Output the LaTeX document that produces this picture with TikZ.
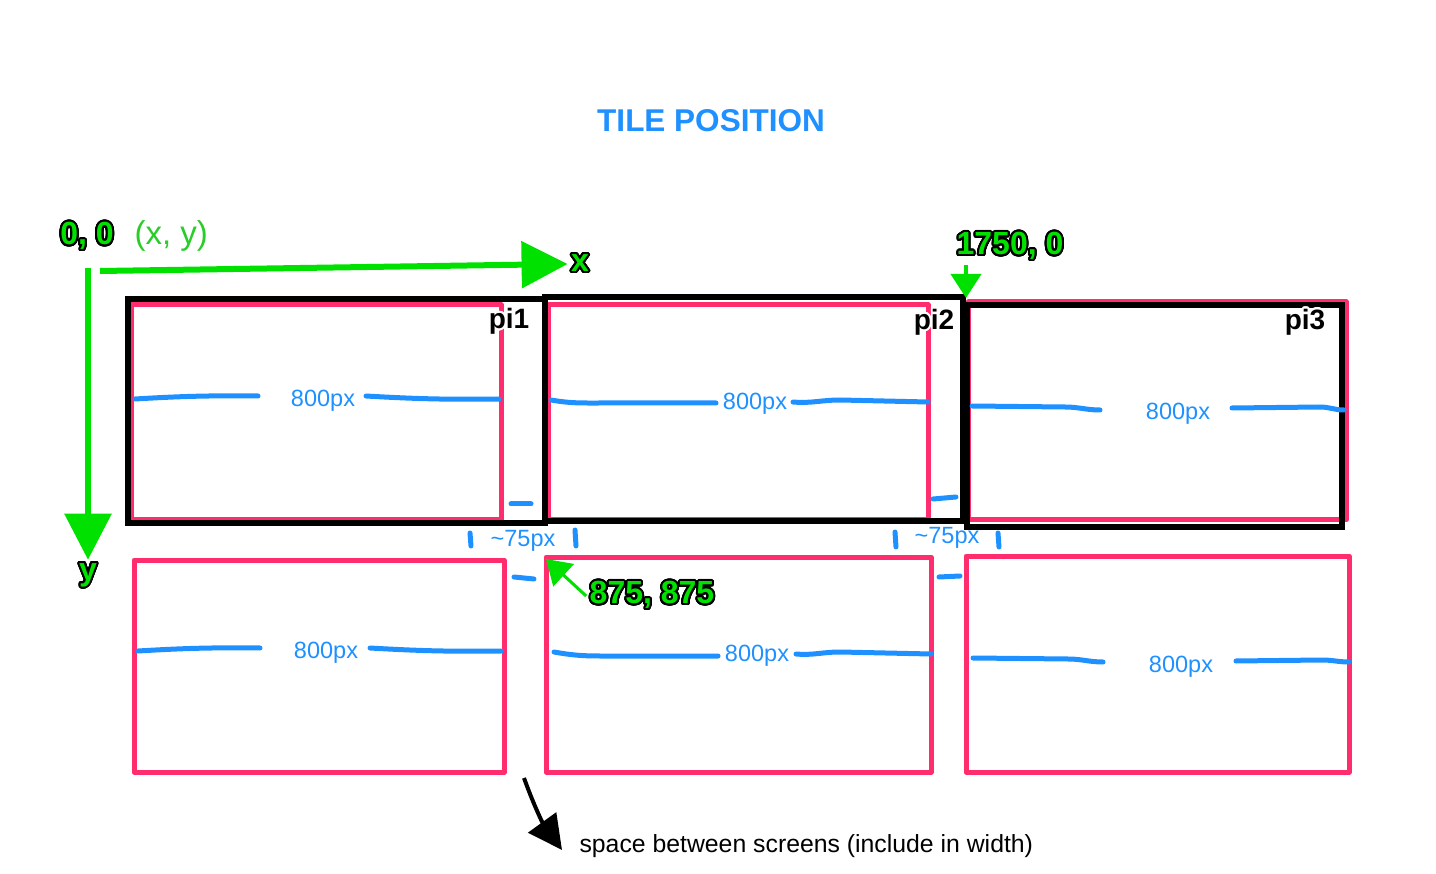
\documentclass[tikz,border=0pt]{standalone}
\usepackage{fontspec}
\setmainfont{Liberation Sans}
\usepackage{contour}
\usetikzlibrary{arrows.meta,calc,positioning}
\definecolor{tilepink}{RGB}{255,45,110}
\definecolor{tileblue}{RGB}{30,144,255}
\definecolor{tilegreen}{RGB}{0,225,0}
\definecolor{softgreen}{RGB}{40,205,40}
\contournumber{32}
\newcommand{\blk}[1]{\contourlength{2pt}\contour{black}{#1}}
\newcommand{\wht}[1]{\contourlength{1.8pt}\contour{white}{#1}}

\begin{document}
\begin{tikzpicture}[x=1pt,y=-1pt,>=Stealth,
  screen/.style={draw=tilepink,line width=5pt,line join=round},
  frame/.style={draw=black,line width=6pt},
  dimline/.style={draw=tileblue,line width=5pt,line cap=round},
  dimlbl/.style={text=tileblue,font=\fontsize{23.5}{27}\selectfont},
  glbl/.style={text=tilegreen,font=\fontsize{32}{36}\selectfont\bfseries},
  pilbl/.style={font=\fontsize{28}{32}\selectfont\bfseries},
  gbig/.style={draw=tilegreen,line width=6pt,-{Triangle[length=46pt,width=46pt]}},
  gsmall/.style={draw=tilegreen,line width=4pt,-{Triangle[length=24pt,width=30pt]}}]
  \useasboundingbox (0,0) rectangle (1436,874);

  \node[font=\fontsize{31.5}{36}\selectfont\bfseries,text=tileblue] (title) at (711,122) {\wht{TILE POSITION}};

  % screens, top row then bottom row
  \draw[screen] (131,305) rectangle (501,520);
  \draw[screen] (548,305) rectangle (928,520);
  \draw[screen] (968,302) rectangle (1346,520);
  \draw[screen] (134,560) rectangle (504,772);
  \draw[screen] (546,557) rectangle (931,772);
  \draw[screen] (966,556) rectangle (1349,772);

  % the pis
  \draw[frame] (128,299) rectangle (545,523);
  \draw[frame] (545,297) rectangle (963,521);
  \draw[frame] (967,305) rectangle (1342,527);
  \node[pilbl] (pi1) at (509,322) {\wht{pi1}};
  \node[pilbl] (pi2) at (934,323) {\wht{pi2}};
  \node[pilbl] (pi3) at (1305,323) {\wht{pi3}};

  % widths
  \node[dimlbl] (w1) at (323,401) {800px};
  \node[dimlbl] (w2) at (755,404) {800px};
  \node[dimlbl] (w3) at (1178,414) {800px};
  \node[dimlbl] (w4) at (326,653) {800px};
  \node[dimlbl] (w5) at (757,656) {800px};
  \node[dimlbl] (w6) at (1181,667) {800px};
  \draw[dimline] (135,399) to[bend left=2] (258,396);
  \draw[dimline] (366,396) to[bend right=2] (499,399);
  \draw[dimline] (551,400) to[out=-10,in=180] (600,403) -- (716,403);
  \draw[dimline] (793,402) to[out=-5,in=180] (840,400) -- (928,402);
  \draw[dimline] (972,406) -- (1065,407) to[out=0,in=180] (1100,410);
  \draw[dimline] (1232,408) -- (1320,407) to[out=0,in=180] (1344,410);
  \draw[dimline] (138,651) to[bend left=2] (260,648);
  \draw[dimline] (370,648) to[bend right=2] (501,651);
  \draw[dimline] (554,652) to[out=-10,in=180] (600,656) -- (718,656);
  \draw[dimline] (796,654) to[out=-5,in=180] (840,652) -- (931,654);
  \draw[dimline] (973,658) -- (1068,659) to[out=0,in=180] (1103,662);
  \draw[dimline] (1236,661) -- (1322,660) to[out=0,in=180] (1349,662);

  % gaps between screens
  \node[dimlbl] (g1) at (523,541) {\textasciitilde75px};
  \node[dimlbl] (g2) at (947,538) {\textasciitilde75px};
  \draw[dimline] (511,504) -- (531,504);
  \draw[dimline] (933,499) -- (956,497);
  \draw[dimline] (514,577) -- (534,579);
  \draw[dimline] (939,577) -- (960,576);
  \draw[dimline] (470,533) -- (471,546);
  \draw[dimline] (575,530) -- (576,546);
  \draw[dimline] (895,532) -- (896,547);
  \draw[dimline] (998,533) -- (999,547);

  % axes
  \node[glbl] (orig) at (87,237) {\blk{0, 0}};
  \node[text=softgreen,font=\fontsize{33}{38}\selectfont,anchor=west] (xy) at (131,236) {(x, y)};
  \node[glbl] (xlbl) at (580,264) {\blk{x}};
  \node[glbl] (ylbl) at (88,576) {\blk{y}};
  \coordinate (xstart) at (100,271);
  \coordinate (ystart) at (88,268);
  \draw[gbig] (xstart) -- (xlbl.west);
  \draw[gbig] (ystart) -- (ylbl.north);

  \node[glbl] (l1750) at (1010,247) {\blk{1750, 0}};
  \coordinate (c1750) at (966,298);
  \draw[gsmall] (l1750.south -| c1750) -- (c1750);
  \node[glbl] (l875) at (652,596) {\blk{875, 875}};
  \coordinate (c875) at (546,559);
  \draw[gsmall,line width=3pt] (l875.west) -- (c875);

  % note
  \node[font=\fontsize{24.8}{28}\selectfont,anchor=west] (note) at (576,846) {space between screens (include in width)};
  \coordinate (gapmark) at (524,778);
  \draw[line width=4pt,-{Triangle[length=34pt,width=34pt]}] (gapmark) to[bend right=8] ($(note.west)+(-14,4)$);
\end{tikzpicture}
\end{document}
